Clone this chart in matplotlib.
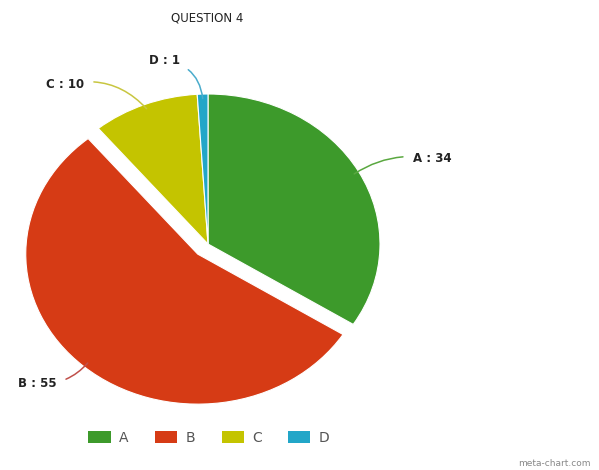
import numpy as np
import matplotlib.pyplot as plt
from matplotlib.patches import Patch

labels = ['A', 'B', 'C', 'D']
values = [34, 55, 10, 1]
colors = ['#3d9a2b', '#d63b15', '#c4c400', '#22a6c8']
line_colors = ['#5aa840', '#c0504a', '#c8c640', '#4aaccc']
explode = [0, 0.09, 0, 0]

# label text positions (data units, pie radius = 1)
text_pos = [(1.19, 0.57), (-0.88, -0.93), (-0.72, 1.06), (-0.165, 1.22)]
text_align = ['left', 'right', 'right', 'right']
curve = [0.2, 0.25, -0.3, -0.4]

W, H = 599, 470
cx, cy = 208, 244     # pie centre in pixels
rx, ry = 172, 150     # pie radius in pixels (it is stretched)

fig = plt.figure(figsize=(W / 100, H / 100), dpi=100)
ax = fig.add_axes([0, 0, 1, 1])

wedges, _ = ax.pie(values, explode=explode, colors=colors, startangle=90,
                   counterclock=False, radius=1,
                   wedgeprops=dict(edgecolor='white', linewidth=0.8))
ax.set_aspect('auto')
ax.set_xlim(-cx / rx, (W - cx) / rx)
ax.set_ylim(-(H - cy) / ry, cy / ry)
ax.axis('off')

total = sum(values)
start = 90.0
for i, (lab, v) in enumerate(zip(labels, values)):
    ang = start - 360.0 * v / total / 2
    start -= 360.0 * v / total
    r = 1.0 + explode[i]
    x0 = np.cos(np.radians(ang)) * r * 0.97
    y0 = np.sin(np.radians(ang)) * r * 0.97
    tx, ty = text_pos[i]
    ax.annotate(f'{lab} : {v}', xy=(x0, y0), xytext=(tx, ty),
                ha=text_align[i], va='center', fontsize=8.5, fontweight='bold',
                color='#222222',
                arrowprops=dict(arrowstyle='-', color=line_colors[i], lw=1.1,
                                connectionstyle=f'arc3,rad={curve[i]}',
                                shrinkA=5, shrinkB=0))

fig.text(207 / W, 1 - 18 / H, 'QUESTION 4', ha='center', va='center',
         fontsize=8.5, color='#222222')

handles = [Patch(facecolor=c, edgecolor='none') for c in colors]
fig.legend(handles, labels, loc='center', bbox_to_anchor=(209 / W, 1 - 438 / H),
           ncol=4, frameon=False, fontsize=10, handlelength=1.6,
           handleheight=1.0, columnspacing=1.9, handletextpad=0.6,
           labelcolor='#555555')

fig.text(1 - 8 / W, 1 - 463 / H, 'meta-chart.com', ha='right', va='center',
         fontsize=6.5, color='#888888')

fig.savefig('out.png', dpi=100)
